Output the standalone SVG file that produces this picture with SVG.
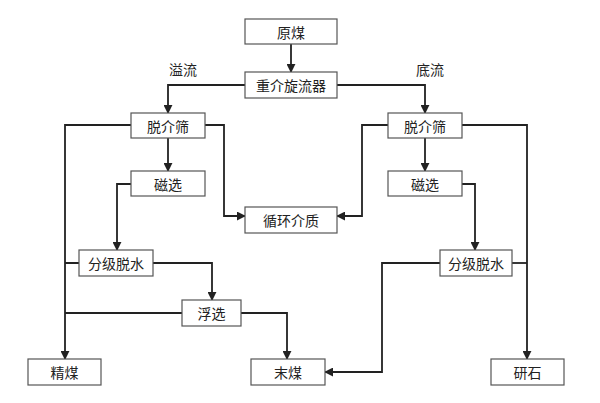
<svg xmlns="http://www.w3.org/2000/svg" width="600" height="403" viewBox="0 0 600 403">
<style>
rect{fill:#fff;stroke:#555;stroke-width:1.2}
text{font-family:"Noto Sans CJK SC","Noto Sans CJK JP",sans-serif;font-size:14px;fill:#222;text-anchor:middle;dominant-baseline:central}
#connectors path{fill:none;stroke:#222;stroke-width:1.8}
</style>
<defs><marker id="a" viewBox="0 0 10 10" refX="9" refY="5" markerWidth="5" markerHeight="5" orient="auto"><path d="M0,0L10,5L0,10z" fill="#222"/></marker></defs>
<rect x="0" y="0" width="600" height="403" style="fill:#fff;stroke:none"/>
<g id="connectors">
<path d="M291,44V72" marker-end="url(#a)"/>
<path d="M245,85H168V113" marker-end="url(#a)"/>
<path d="M337,85H425V113" marker-end="url(#a)"/>
<path d="M168,138V171" marker-end="url(#a)"/>
<path d="M425,138V171" marker-end="url(#a)"/>
<path d="M205,125H224V216H245" marker-end="url(#a)"/>
<path d="M388,125H362V216H337" marker-end="url(#a)"/>
<path d="M131,184H117V250" marker-end="url(#a)"/>
<path d="M462,184H475V250" marker-end="url(#a)"/>
<path d="M131,125H65V359" marker-end="url(#a)"/>
<path d="M79,263H65M182,313H65"/>
<path d="M153,263H212V300" marker-end="url(#a)"/>
<path d="M241,313H287V359" marker-end="url(#a)"/>
<path d="M440,263H382V372H325" marker-end="url(#a)"/>
<path d="M462,125H527V359" marker-end="url(#a)"/>
<path d="M512,263H527"/>
</g>
<text x="183" y="69">溢流</text>
<text x="430" y="69">底流</text>
<g id="n1"><rect x="245" y="19" width="92" height="25"/><text x="291" y="31.5">原煤</text></g>
<g id="n2"><rect x="245" y="72" width="92" height="26"/><text x="291" y="85">重介旋流器</text></g>
<g id="n3"><rect x="131" y="113" width="74" height="25"/><text x="168" y="125.5">脱介筛</text></g>
<g id="n4"><rect x="388" y="113" width="74" height="25"/><text x="425" y="125.5">脱介筛</text></g>
<g id="n5"><rect x="131" y="171" width="74" height="25"/><text x="168" y="183.5">磁选</text></g>
<g id="n6"><rect x="388" y="171" width="74" height="25"/><text x="425" y="183.5">磁选</text></g>
<g id="n7"><rect x="245" y="207" width="92" height="26"/><text x="291" y="220">循环介质</text></g>
<g id="n8"><rect x="79" y="250" width="74" height="26"/><text x="116" y="263">分级脱水</text></g>
<g id="n9"><rect x="440" y="250" width="72" height="26"/><text x="476" y="263">分级脱水</text></g>
<g id="n10"><rect x="182" y="300" width="59" height="26"/><text x="211.5" y="313">浮选</text></g>
<g id="n11"><rect x="28" y="359" width="73" height="26"/><text x="64.5" y="372">精煤</text></g>
<g id="n12"><rect x="251" y="359" width="74" height="26"/><text x="288" y="372">末煤</text></g>
<g id="n13"><rect x="491" y="359" width="73" height="26"/><text x="527.5" y="372">研石</text></g>
</svg>
